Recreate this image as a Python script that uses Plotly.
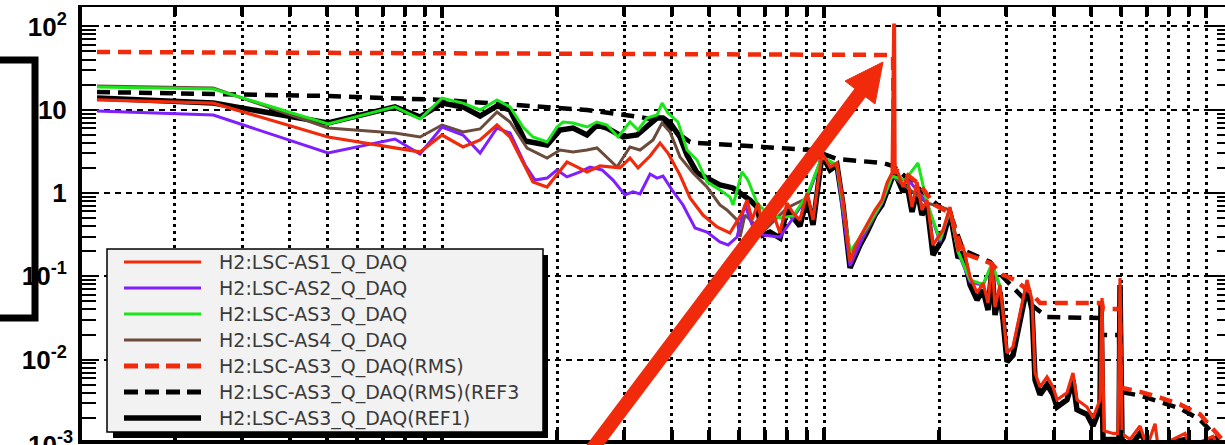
import plotly.graph_objects as go

# ---------------- data (frequency in Hz, amplitude) ----------------
f_as1 = [1.25, 2.52, 5.03, 7.53, 8.76, 10.0, 11.35, 12.58, 13.93, 15.07, 17.3, 18.84, 21.24, 23.96, 25.92,
         29.24, 31.05, 32.6, 35.04, 37.22, 39.04, 41.98, 44.6, 48.22, 52.5, 56.7,
         61.0, 62.9, 64.8, 67.2, 69.2, 71.4, 73.5, 76.7, 80.0, 83.0, 86.5, 90.3, 93.6, 98.8, 103.7,
         108.1, 112.1, 117, 120.6, 124.3, 129.6, 136, 141.8, 146.2, 150.7, 152.2, 153.0, 153.5, 156.2, 161, 165,
         170, 175.2, 180.5, 186.1, 192.9, 204.9, 213.7, 217.6, 224.3, 231.2, 241.2, 251.5, 260.8, 268.8, 275.3,
         280.3, 288.9, 294.2, 301.3, 312.4, 322, 340, 350.4, 356.8, 367.7, 383.6, 397.7, 407.4, 432.6, 448.5,
         459.4, 488, 506, 527.9, 534.3, 540.5, 570.9, 588.4, 595.5, 602.7, 632.4, 671.9, 700.8, 735.5, 748.9,
         881, 908, 1043, 1075, 1122]
a_as1 = [13.1, 12.0, 4.70, 3.47, 3.11, 4.97, 3.57, 4.33, 6.55, 4.70, 1.36, 1.18, 2.36, 1.79, 2.11,
         2.00, 2.63, 2.00, 2.78, 3.98, 3.02, 1.64, 0.871, 0.544, 0.391, 0.331,
         0.575, 0.824, 0.474, 0.759, 0.360, 0.436, 0.575, 0.331, 0.759, 0.575, 0.474, 1.0, 0.474, 3.02, 2.05,
         2.29, 0.824, 0.149, 0.225, 0.296, 0.413, 0.625, 0.824, 1.32, 1.74, 104, 104, 1.74, 1.74, 1.18, 1.56,
         0.679, 1.36, 0.625, 0.824, 0.238, 0.360, 0.679, 0.436, 0.207, 0.225, 0.098, 0.0631, 0.0832, 0.0479, 0.149,
         0.0428, 0.0787, 0.0362, 0.0120, 0.0142, 0.0275, 0.0903, 0.0520, 0.0069, 0.0047, 0.0062, 0.0047, 0.0033, 0.0040, 0.0069,
         0.0033, 0.0027, 0.0020, 0.0033, 0.0550, 0.0014, 0.0013, 0.0013, 0.0955, 0.0013, 0.0011, 0.0016, 0.0009, 0.0017, 0.0009,
         0.0013, 0.0009, 0.0012, 0.0009, 0.0009]

f_as2 = [1.25, 2.52, 5.03, 7.53, 8.76, 10.0, 11.35, 12.58, 13.93, 15.07, 16.5, 17.52, 18.84, 20.0, 21.24,
         22.98, 24.4, 26.24, 28.03, 30.13, 31.62, 32.99, 35.04, 36.55, 37.89, 40.0, 42.75, 45.96, 49.4, 51.2,
         53.4, 56.1, 59.2, 62.1, 64.8, 69.2, 76.7, 83.0, 90.3, 98.8, 108.1, 117, 129.6, 141.8, 150.7,
         168, 186.1, 201.2, 213.7, 224.3, 241.2, 260.8, 275.3, 288.9]
a_as2 = [9.65, 8.64, 3.02, 4.45, 2.94, 6.20, 4.97, 3.02, 6.03, 5.25, 2.17, 1.43, 1.51, 1.89, 1.56,
         1.79, 2.05, 1.89, 1.43, 0.946, 1.03, 0.973, 1.69, 1.51, 1.60, 1.09, 0.718, 0.380, 0.340, 0.296,
         0.258, 0.238, 0.296, 0.718, 0.413, 0.313, 0.296, 0.501, 0.895, 2.71, 2.11, 0.133, 0.380, 0.759, 1.6,
         1.36, 0.759, 0.258, 0.625, 0.196, 0.0855, 0.0780, 0.140, 0.0740]

f_as3 = [1.25, 2.52, 5.03, 7.53, 8.76, 10.0, 11.35, 12.58, 13.93, 15.07, 16.29, 17.3, 18.84, 20.0, 20.74,
         22.03, 23.96, 25.45, 27.04, 28.89, 31.05, 32.6, 34.4, 36.55, 37.67, 39.04, 41.47, 43.79, 46.51, 49.4,
         53.4, 56.7, 57.8, 61.0, 63.2, 66.8, 70.9, 76.7, 83.0, 90.3, 98.8, 108.1, 117, 129.6, 141.8,
         150.7, 163, 176.2, 186.1, 201.2, 213.7, 224.3, 241.2, 260.8, 275.3, 288.9]
a_as3 = [18.7, 17.7, 6.74, 10.8, 7.73, 13.8, 12.0, 9.92, 13.1, 10.8, 6.20, 4.70, 4.10, 6.20, 7.12,
         6.92, 6.20, 7.12, 6.55, 4.70, 7.12, 5.71, 7.95, 8.64, 12.0, 9.13, 7.12, 3.28, 2.49, 1.36,
         1.09, 0.895, 0.718, 1.79, 1.43, 0.759, 0.575, 0.501, 0.53, 0.946, 2.71, 2.17, 0.196, 0.391, 0.780,
         1.6, 1.43, 2.29, 0.759, 0.273, 0.625, 0.200, 0.0903, 0.0800, 0.142, 0.0760]

f_as4 = [1.25, 2.52, 5.03, 7.53, 8.76, 10.0, 11.35, 12.58, 13.93, 15.07, 16.7, 18.84, 20.37, 22.03, 23.96,
         25.45, 28.72, 31.05, 32.99, 35.68, 37.67, 39.53, 41.98, 45.41, 49.4, 53.4, 55.7, 59.2, 60.3,
         62.1, 69.2, 80.0, 90.3, 98.8, 108.1, 117, 141.8, 150.7, 186.1, 213.7, 224.3, 241.2]
a_as4 = [19.3, 18.2, 6.03, 5.25, 4.70, 6.55, 5.40, 5.87, 9.38, 7.12, 3.47, 2.63, 3.28, 3.11, 3.28,
         3.47, 2.05, 3.57, 3.28, 4.33, 6.92, 5.40, 2.71, 1.74, 1.18, 0.718, 0.625, 0.474, 0.296,
         0.544, 0.340, 0.661, 0.871, 2.71, 2.11, 0.149, 0.759, 1.6, 0.759, 0.625, 0.200, 0.0900]

f_rms = [1.25, 10.0, 25.92, 140.2, 151.6, 152.5, 163, 178.4, 195.3, 213.7, 231.2, 272, 294.2, 316, 346,
         367.7, 534.3, 537.6, 595.5, 599, 671.9, 758, 855, 964.5, 1043, 1101, 1142]
a_rms = [49.3, 47.9, 46.6, 45.4, 45.4, 1.89, 1.74, 1.25, 0.718, 0.575, 0.190, 0.145, 0.104, 0.0903, 0.0648,
         0.0479, 0.0479, 0.0405, 0.0405, 0.0046, 0.0041, 0.0035, 0.0029, 0.0022, 0.0015, 0.0011, 0.0008]

f_rms_ref3 = [1.25, 2.52, 5.03, 10.0, 16.0, 23.96, 32.99, 37.22, 44.6, 46.51, 69.2, 93.6, 108.1, 142.7, 151.6,
              201.2, 213.7, 231.2, 272, 294.2, 336, 383.6, 527.9, 531, 592, 595.5, 671.9, 758, 855, 964.5, 1043, 1101]
a_rms_ref3 = [16.3, 15.4, 14.6, 13.1, 11.1, 9.92, 8.17, 7.32, 4.10, 3.98, 3.57, 3.28, 2.56, 2.29, 2.11,
              0.679, 0.575, 0.207, 0.149, 0.098, 0.052, 0.0324, 0.0316, 0.0197, 0.0197, 0.0041, 0.0037, 0.0031,
              0.0026, 0.0019, 0.0013, 0.0009]

f_ref1 = [1.25, 2.52, 5.03, 7.53, 8.76, 10.0, 11.35, 12.58, 13.93, 15.07, 16.5, 18.84, 20.37, 22.03, 23.96,
          25.45, 27.04, 29.78, 32.4, 34.4, 36.55, 37.89, 39.53, 41.98, 43.79, 46.51, 50.3, 53.4, 57.8, 60.3,
          64.0, 66.8, 69.2, 72.2, 76.7, 80.0, 83.0, 86.5, 90.3, 93.6, 98.8, 103.7, 108.1, 112.1, 117,
          120.6, 124.3, 129.6, 136, 141.8, 146.2, 150.7, 153.5, 156.2, 161, 165, 170, 175.2, 180.5, 186.1,
          192.9, 204.9, 213.7, 217.6, 224.3, 231.2, 241.2, 251.5, 260.8, 268.8, 275.3, 280.3, 288.9, 294.2, 301.3,
          312.4, 322, 340, 350.4, 356.8, 367.7, 383.6, 397.7, 407.4, 432.6, 448.5, 459.4, 488, 506, 527.9,
          531, 537.6, 570.9, 592, 595.5, 602.7, 632.4, 671.9, 713.7, 881, 908, 1043, 1122]
a_ref1 = [13.8, 12.0, 6.92, 10.8, 8.17, 12.0, 10.8, 8.40, 11.1, 9.92, 4.21, 3.77, 5.71, 6.03, 4.97,
          6.55, 6.03, 4.70, 4.97, 6.20, 7.95, 7.95, 6.92, 4.70, 2.86, 1.74, 1.43, 1.25, 1.15, 1.0,
          0.824, 0.679, 0.313, 0.34, 0.288, 0.625, 0.501, 0.402, 0.871, 0.413, 2.86, 1.89, 2.17, 0.718, 0.126,
          0.180, 0.238, 0.34, 0.544, 0.718, 1.09, 1.51, 1.64, 1.43, 1.03, 1.25, 0.592, 1.09, 0.544, 0.718,
          0.180, 0.288, 0.592, 0.360, 0.166, 0.196, 0.0787, 0.0520, 0.0685, 0.0394, 0.126, 0.0343, 0.0648, 0.0299, 0.0094,
          0.0113, 0.0227, 0.0745, 0.0394, 0.0057, 0.0038, 0.0050, 0.0038, 0.0027, 0.0033, 0.0057, 0.0025, 0.0022, 0.0016, 0.0026,
          0.0479, 0.0011, 0.0011, 0.0011, 0.0787, 0.0011, 0.0009, 0.0013, 0.0009, 0.0011, 0.0009, 0.0011, 0.0009]

names = ["H2:LSC-AS1_Q_DAQ", "H2:LSC-AS2_Q_DAQ", "H2:LSC-AS3_Q_DAQ", "H2:LSC-AS4_Q_DAQ",
         "H2:LSC-AS3_Q_DAQ(RMS)", "H2:LSC-AS3_Q_DAQ(RMS)(REF3)", "H2:LSC-AS3_Q_DAQ(REF1)"]
legend_labels = ["H2:LSC-AS1_Q_DAQ", "H2:LSC-AS2_Q_DAQ", "H2:LSC-AS3_Q_DAQ", "H2:LSC-AS4_Q_DAQ",
                 "H2:LSC-AS3_Q_DAQ(RMS)", "H2:LSC-AS3_Q_DAQ(RMS)(REF3", "H2:LSC-AS3_Q_DAQ(REF1)"]
y_tickvals = [1e-3, 1e-2, 1e-1, 1, 10, 100]
y_ticktext = ["10<sup>-3</sup>", "10<sup>-2</sup>", "10<sup>-1</sup>", "1", "10", "10<sup>2</sup>"]
x_tickvals = [1, 10, 100, 1000]

# ---------------- styles ----------------
RED = "#f02a0a"
PURPLE = "#7f1fff"
GREEN = "#19e619"
BROWN = "#6b4b3b"
BLACK = "#000000"
DASH = "13px,8px"

styles = {
    0: dict(color=RED, width=3.2),
    1: dict(color=PURPLE, width=3),
    2: dict(color=GREEN, width=3),
    3: dict(color=BROWN, width=3),
    4: dict(color=RED, width=4.5, dash=DASH),
    5: dict(color=BLACK, width=4.5, dash=DASH),
    6: dict(color=BLACK, width=5.5),
}

series = {0: (f_as1, a_as1), 1: (f_as2, a_as2), 2: (f_as3, a_as3), 3: (f_as4, a_as4),
          4: (f_rms, a_rms), 5: (f_rms_ref3, a_rms_ref3), 6: (f_ref1, a_ref1)}

fig = go.Figure()
for i in [6, 5, 3, 1, 2, 0]:
    fx, fy = series[i]
    fig.add_trace(go.Scatter(x=fx, y=fy, mode="lines", name=names[i], line=styles[i], showlegend=False))
# RMS trace drawn on the overlay axes (top/right frame) - identical ranges
fig.add_trace(go.Scatter(x=f_rms, y=a_rms, mode="lines", name=names[4], line=styles[4],
                         showlegend=False, xaxis="x2", yaxis="y2"))

# ---------------- axes ----------------
XR = [0.0576, 3.0497]
YR = [-2.9652, 2.2329]
minor_x = [m * 10 ** e for e in range(0, 4) for m in range(2, 10)]
minor_y = [m * 10.0 ** e for e in range(-3, 3) for m in range(2, 10)]
TICKFONT = dict(family="Liberation Sans, Arial", size=26, color=BLACK, weight="bold")

fig.update_layout(
    width=1225, height=445,
    margin=dict(l=82, r=0, t=7, b=5),
    paper_bgcolor="white", plot_bgcolor="white",
    showlegend=False,
    xaxis=dict(type="log", range=XR, showline=True, linewidth=4, linecolor=BLACK,
               ticks="inside", ticklen=12, tickwidth=4, tickcolor=BLACK,
               tickmode="array", tickvals=x_tickvals, showticklabels=False,
               showgrid=True, gridcolor=BLACK, gridwidth=3, griddash="3px,4px",
               zeroline=False, automargin=False,
               minor=dict(tickmode="array", tickvals=minor_x, ticks="inside", ticklen=10,
                          tickwidth=3.5, tickcolor=BLACK, showgrid=True, gridcolor=BLACK,
                          gridwidth=3, griddash="3px,4px")),
    yaxis=dict(type="log", range=YR, showline=True, linewidth=4, linecolor=BLACK,
               ticks="inside", ticklen=14, tickwidth=2, tickcolor=BLACK,
               tickmode="array", tickvals=y_tickvals, ticktext=y_ticktext,
               tickfont=TICKFONT, ticklabelstandoff=6,
               showgrid=True, gridcolor=BLACK, gridwidth=2, griddash="6px,5px",
               zeroline=False, automargin=False,
               minor=dict(tickmode="array", tickvals=minor_y, ticks="inside", ticklen=14,
                          tickwidth=2, tickcolor=BLACK, showgrid=False)),
    xaxis2=dict(type="log", range=XR, overlaying="x", side="top", anchor="y2",
                showline=True, linewidth=1.5, linecolor=BLACK,
                ticks="inside", ticklen=11, tickwidth=4, tickcolor=BLACK,
                tickmode="array", tickvals=x_tickvals, showticklabels=False, showgrid=False,
                zeroline=False, automargin=False,
                minor=dict(tickmode="array", tickvals=minor_x, ticks="inside", ticklen=9,
                           tickwidth=3.5, tickcolor=BLACK, showgrid=False)),
    yaxis2=dict(type="log", range=YR, overlaying="y", side="right", anchor="x2",
                showline=False, ticks="inside", ticklen=20, tickwidth=2, tickcolor=BLACK,
                tickmode="array", tickvals=y_tickvals, showticklabels=False, showgrid=False,
                zeroline=False, automargin=False,
                minor=dict(tickmode="array", tickvals=minor_y, ticks="inside", ticklen=8,
                           tickwidth=2, tickcolor=BLACK, showgrid=False)),
)

# ---------------- decorations (figure-pixel -> paper helpers) ----------------
PX0, PX1, PY0, PY1 = 82, 1225, 7, 440


def P(x):
    return (x - PX0) / (PX1 - PX0)


def Q(y):
    return (PY1 - y) / (PY1 - PY0)


shapes = []
# legend shadow and box
shapes.append(dict(type="rect", xref="paper", yref="paper", x0=P(113), x1=P(548), y0=Q(438), y1=Q(255),
                   fillcolor=BLACK, line=dict(width=0), layer="above"))
shapes.append(dict(type="rect", xref="paper", yref="paper", x0=P(107), x1=P(543), y0=Q(432), y1=Q(249),
                   fillcolor="#f2f2f2", line=dict(color=BLACK, width=1.5), layer="above"))
annotations = []
for row, i in enumerate([0, 1, 2, 3, 4, 5, 6]):
    yy = 262 + 26 * row
    st = dict(styles[i])
    if "dash" in st:
        st["dash"] = "14px,7px"
        st["width"] = 5
    shapes.append(dict(type="line", xref="paper", yref="paper", x0=P(124), x1=P(201), y0=Q(yy), y1=Q(yy),
                       line=st, layer="above"))
    annotations.append(dict(xref="paper", yref="paper", x=P(217), y=Q(yy), xanchor="left", yanchor="middle",
                            text=legend_labels[i], showarrow=False,
                            font=dict(family="DejaVu Sans", size=19, color="#3a3a3a")))

# black bracket on the left
shapes.append(dict(type="path", xref="paper", yref="paper",
                   path=f"M {P(-6)},{Q(60)} L {P(35)},{Q(60)} L {P(35)},{Q(318)} L {P(-6)},{Q(318)}",
                   line=dict(color=BLACK, width=7), fillcolor="rgba(0,0,0,0)", layer="above"))

# red arrow
shapes.append(dict(type="line", xref="paper", yref="paper", x0=P(588.5), y0=Q(454), x1=P(863), y1=Q(89),
                   line=dict(color=RED, width=14), layer="above"))
shapes.append(dict(type="path", xref="paper", yref="paper",
                   path=f"M {P(883)},{Q(62)} L {P(845)},{Q(81)} L {P(875)},{Q(104)} Z",
                   fillcolor=RED, line=dict(color=RED, width=1), layer="above"))

# 10^-3 label (just below the visible range, cut by the image edge as in the reference)
annotations.append(dict(xref="paper", yref="paper", x=P(75), y=Q(443), xanchor="right", yanchor="middle",
                        text="10<sup>-3</sup>", showarrow=False, font=TICKFONT))

fig.update_layout(shapes=shapes, annotations=annotations)
fig.write_html("out.html", config={"displayModeBar": False},
               post_script="document.body.style.margin='0px';document.body.style.overflow='hidden';")
